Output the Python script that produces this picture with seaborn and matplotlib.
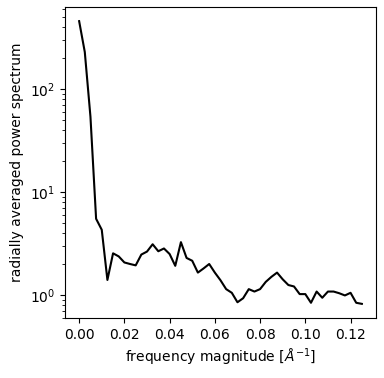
import numpy as np
import pandas as pd
import matplotlib
matplotlib.use("Agg")
import matplotlib.pyplot as plt
import seaborn as sns

freq_step = 0.0025
n_points = 51
power = [457, 229, 54, 5.5, 4.3, 1.40, 2.54, 2.37, 2.07, 2.0,
         1.94, 2.47, 2.64, 3.11, 2.66, 2.83, 2.5, 1.92, 3.26, 2.29,
         2.15, 1.65, 1.81, 2.0, 1.65, 1.39, 1.14, 1.05, 0.85, 0.93,
         1.14, 1.08, 1.14, 1.34, 1.50, 1.65, 1.42, 1.25, 1.21, 1.02,
         1.02, 0.84, 1.08, 0.94, 1.08, 1.08, 1.04, 0.99, 1.05, 0.84,
         0.82]
freq = [i * freq_step for i in range(n_points)]

df = pd.DataFrame({"freq": freq, "power": power})

fig = plt.figure(figsize=(3.84, 3.78), dpi=100)
ax = fig.add_axes([65/384, 1-318/378, (376-65)/384, (318-7)/378])
sns.lineplot(data=df, x="freq", y="power", color="black", ax=ax, linewidth=1.5)
ax.set_yscale("log")
ax.set_xlabel("frequency magnitude [$Å^{-1}$]")
ax.set_ylabel("radially averaged power spectrum")
ax.set_xticks([0.0, 0.02, 0.04, 0.06, 0.08, 0.10, 0.12])
fig.savefig("out.png", dpi=100)
